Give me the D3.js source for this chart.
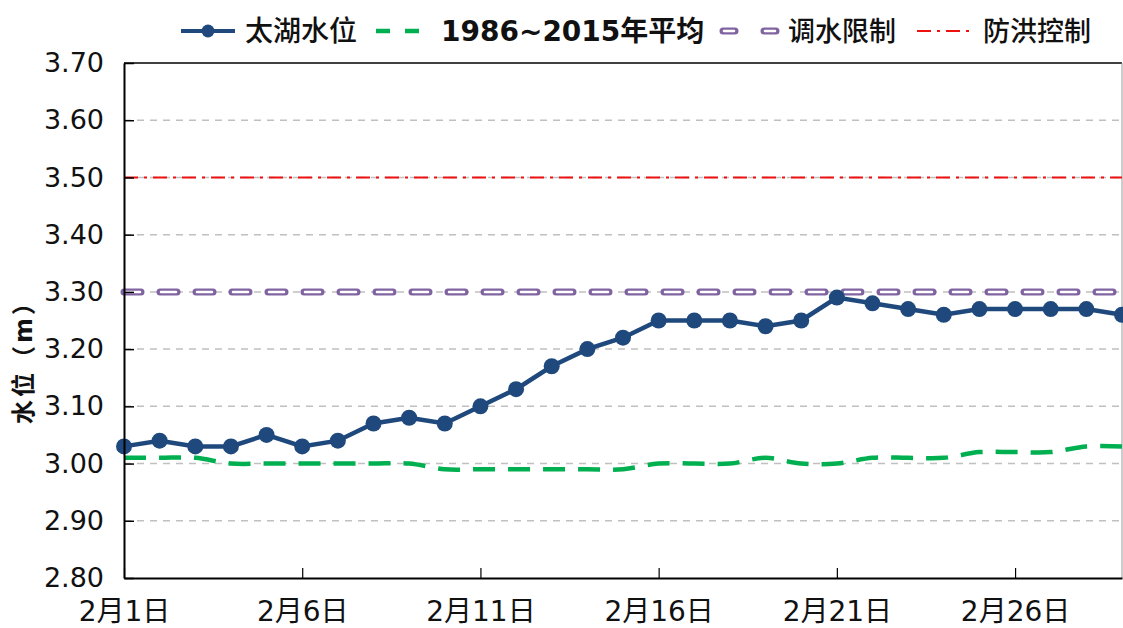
<!DOCTYPE html>
<html>
<head>
<meta charset="utf-8">
<script src="https://cdn.jsdelivr.net/npm/d3@7"></script>
<style>
  body { margin: 0; background: #fff; }
  svg text { font-family: "DejaVu Sans", "Noto Sans CJK SC", sans-serif; }
</style>
</head>
<body>
<div id="chart"></div>
<script>
// data, Feb 1 .. Feb 29
const days = d3.range(1, 30);
const lakeLevel = [3.03, 3.04, 3.03, 3.03, 3.05, 3.03, 3.04, 3.07, 3.08, 3.07,
                   3.10, 3.13, 3.17, 3.20, 3.22, 3.25, 3.25, 3.25, 3.24, 3.25,
                   3.29, 3.28, 3.27, 3.26, 3.27, 3.27, 3.27, 3.27, 3.26];
const avgLevel = [3.01, 3.01, 3.01, 3.00, 3.00, 3.00, 3.00, 3.00, 3.00, 2.99,
                  2.99, 2.99, 2.99, 2.99, 2.99, 3.00, 3.00, 3.00, 3.01, 3.00,
                  3.00, 3.01, 3.01, 3.01, 3.02, 3.02, 3.02, 3.03, 3.03];
const diversionLimit = 3.30;
const floodControl = 3.50;
const yTicks = [2.80, 2.90, 3.00, 3.10, 3.20, 3.30, 3.40, 3.50, 3.60, 3.70];
const xTicks = [1, 6, 11, 16, 21, 26];

const W = 1123, H = 628;
const margin = { top: 63, right: 1, bottom: 50, left: 124 };
const width = W - margin.left - margin.right;
const height = H - margin.top - margin.bottom;

const svg = d3.select("#chart").append("svg")
    .attr("width", W).attr("height", H);

const g = svg.append("g")
    .attr("transform", `translate(${margin.left},${margin.top})`);

const x = d3.scaleLinear().domain([1, 29]).range([0, width]);
const y = d3.scaleLinear().domain([2.80, 3.70]).range([height, 0]);

// gridlines
g.append("g").selectAll("line")
    .data(yTicks.filter(t => t > 2.8 && t < 3.7))
    .enter().append("line")
    .attr("x1", 0).attr("x2", width)
    .attr("y1", d => y(d)).attr("y2", d => y(d))
    .attr("stroke", "#c0c0c0").attr("stroke-width", 1.5)
    .attr("stroke-dasharray", "7,6");

// frame: top black, right gray
g.append("line").attr("x1", 0).attr("x2", width).attr("y1", 0).attr("y2", 0)
    .attr("stroke", "#000").attr("stroke-width", 1.5);
g.append("line").attr("x1", width).attr("x2", width).attr("y1", 0).attr("y2", height)
    .attr("stroke", "#999").attr("stroke-width", 1);

// reference lines
g.append("line")
    .attr("x1", 0).attr("x2", width)
    .attr("y1", y(diversionLimit)).attr("y2", y(diversionLimit))
    .attr("stroke", "#8064a2").attr("stroke-width", 7)
    .attr("stroke-linecap", "round")
    .attr("stroke-dasharray", "17,19");
g.append("line")
    .attr("x1", 0).attr("x2", width)
    .attr("y1", y(diversionLimit)).attr("y2", y(diversionLimit))
    .attr("stroke", "#fff").attr("stroke-width", 2.5)
    .attr("stroke-linecap", "round")
    .attr("stroke-dasharray", "15,21")
    .attr("stroke-dashoffset", -1);

g.append("line")
    .attr("x1", 0).attr("x2", width)
    .attr("y1", y(floodControl)).attr("y2", y(floodControl))
    .attr("stroke", "#ee1111").attr("stroke-width", 2)
    .attr("stroke-dasharray", "14,6,3,6");

// 30-year average, smoothed dashed
g.append("path")
    .datum(avgLevel)
    .attr("fill", "none")
    .attr("stroke", "#00b050")
    .attr("stroke-width", 4.5)
    .attr("stroke-dasharray", "22,13")
    .attr("d", d3.line()
        .x((d, i) => x(days[i]))
        .y(d => y(d))
        .curve(d3.curveCatmullRom.alpha(0.5)));

// lake level
g.append("path")
    .datum(lakeLevel)
    .attr("fill", "none")
    .attr("stroke", "#1f497d")
    .attr("stroke-width", 4.5)
    .attr("d", d3.line()
        .x((d, i) => x(days[i]))
        .y(d => y(d)));

g.selectAll("circle.pt")
    .data(lakeLevel)
    .enter().append("circle")
    .attr("class", "pt")
    .attr("cx", (d, i) => x(days[i]))
    .attr("cy", d => y(d))
    .attr("r", 8)
    .attr("fill", "#1f497d");

// axes
const yAxis = g.append("g")
    .call(d3.axisLeft(y).tickValues(yTicks).tickFormat(d3.format(".2f"))
        .tickSizeInner(-10).tickSizeOuter(0).tickPadding(20));
yAxis.select(".domain").attr("stroke", "#000").attr("stroke-width", 2);
yAxis.selectAll(".tick line").attr("stroke", "#000").attr("stroke-width", 1.5);
yAxis.selectAll(".tick text").attr("font-size", 27).attr("fill", "#111");

const xAxis = g.append("g")
    .attr("transform", `translate(0,${height})`)
    .call(d3.axisBottom(x).tickValues(xTicks).tickFormat(d => `2月${d}日`)
        .tickSizeInner(-10).tickSizeOuter(0).tickPadding(23));
xAxis.select(".domain").attr("stroke", "#000").attr("stroke-width", 2);
xAxis.selectAll(".tick line").attr("stroke", "#000").attr("stroke-width", 1.2);
xAxis.selectAll(".tick text").attr("font-size", 28).attr("fill", "#111");

// y axis title
svg.append("text")
    .attr("transform", `translate(32,356) rotate(-90)`)
    .attr("text-anchor", "middle")
    .attr("font-size", 24)
    .attr("font-weight", "bold")
    .attr("letter-spacing", 3)
    .attr("fill", "#111")
    .text("水位（m）");

// legend
const legend = svg.append("g").attr("transform", "translate(0,31)");
const fs = 27;

// 太湖水位
legend.append("line").attr("x1", 181).attr("x2", 235).attr("y1", 0).attr("y2", 0)
    .attr("stroke", "#1f497d").attr("stroke-width", 4);
legend.append("circle").attr("cx", 208).attr("cy", 0).attr("r", 6.5).attr("fill", "#1f497d");
legend.append("text").attr("x", 245).attr("y", 10).attr("font-size", 28)
    .attr("fill", "#111").attr("font-weight", 500).text("太湖水位");

// 1986~2015年平均
legend.append("line").attr("x1", 376).attr("x2", 420).attr("y1", 0).attr("y2", 0)
    .attr("stroke", "#00b050").attr("stroke-width", 4.5).attr("stroke-dasharray", "14,15");
legend.append("text").attr("x", 441).attr("y", 10).attr("font-size", 28)
    .attr("fill", "#111").attr("font-weight", "bold").text("1986~2015年平均");

// 调水限制
legend.append("line").attr("x1", 723).attr("x2", 777).attr("y1", 0).attr("y2", 0)
    .attr("stroke", "#8064a2").attr("stroke-width", 7).attr("stroke-linecap", "round")
    .attr("stroke-dasharray", "12,29");
legend.append("line").attr("x1", 723).attr("x2", 777).attr("y1", 0).attr("y2", 0)
    .attr("stroke", "#fff").attr("stroke-width", 2.5).attr("stroke-linecap", "round")
    .attr("stroke-dasharray", "10,31").attr("stroke-dashoffset", -1);
legend.append("text").attr("x", 788).attr("y", 10).attr("font-size", fs)
    .attr("fill", "#111").attr("font-weight", 500).text("调水限制");

// 防洪控制
legend.append("line").attr("x1", 917).attr("x2", 969).attr("y1", 0).attr("y2", 0)
    .attr("stroke", "#ee1111").attr("stroke-width", 2).attr("stroke-dasharray", "14,6,3,6");
legend.append("text").attr("x", 983).attr("y", 10).attr("font-size", fs)
    .attr("fill", "#111").attr("font-weight", 500).text("防洪控制");
</script>
</body>
</html>
